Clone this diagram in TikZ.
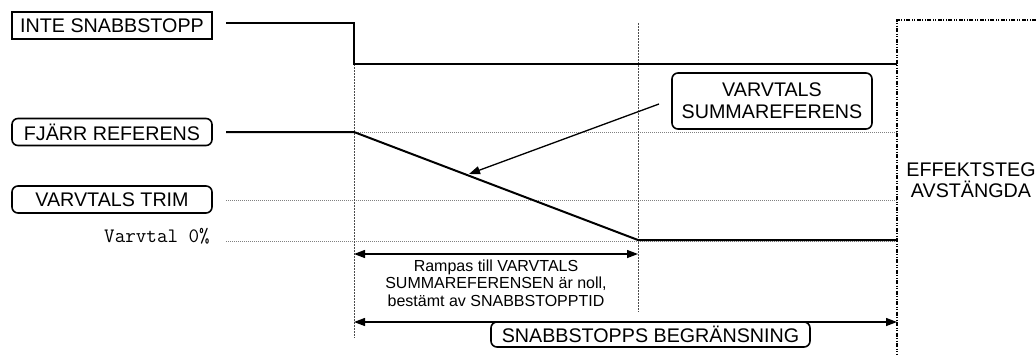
\documentclass[tikz,border=0pt]{standalone}
\usepackage{fontspec}
\setmainfont{Liberation Sans}
\usetikzlibrary{arrows.meta}
\tikzset{
  lbl/.style={draw, line width=1.6pt, minimum width=200pt, minimum height=27pt, inner sep=0pt, font=\fontsize{19.7}{22}\selectfont, fill=white},
  rlbl/.style={lbl, rounded corners=6pt},
  sig/.style={line width=2pt},
  guide/.style={line width=0.9pt, gray, dash pattern=on 1pt off 1pt},
  vguide/.style={line width=0.9pt, black!70, dash pattern=on 1.5pt off 1.5pt},
  frame/.style={line width=1.1pt, dash pattern=on 4pt off 1.5pt on 1pt off 1.5pt on 1pt off 1.5pt},
  tip/.style={-{Triangle[length=11pt,width=8pt]}},
  dtip/.style={{Triangle[length=11pt,width=8pt]}-{Triangle[length=11pt,width=8pt]}, line width=1.3pt},
}
\begin{document}
\begin{tikzpicture}[x=1pt,y=-1pt]
\useasboundingbox (0,0) rectangle (1036,354);
% labels
\node[lbl] (inte) at (112,25.5) {INTE SNABBSTOPP};
\node[rlbl] (fjarr) at (112,132) {FJÄRR REFERENS};
\node[rlbl] (trim) at (112,199.5) {VARVTALS TRIM};
\node[anchor=base east, inner sep=0pt, font=\ttfamily\fontsize{20.5}{22}\selectfont] (v0) at (210,242.5) {Varvtal 0\%};
% coordinates
\coordinate (a0) at (226,23);
\coordinate (a1) at (354,23);
\coordinate (a2) at (354,64);
\coordinate (a3) at (897,64);
\coordinate (b0) at (226,132);
\coordinate (b1) at (354,132);
\coordinate (b2) at (638,240);
\coordinate (b3) at (897,240);
\coordinate (bg) at (897,132);
\coordinate (t0) at (226,200);
\coordinate (t1) at (897,200);
\coordinate (z0) at (226,241);
\coordinate (z1) at (897,241);
\coordinate (v1t) at (354,64);
\coordinate (v1b) at (354,338);
\coordinate (v2t) at (638,23);
\coordinate (v2b) at (638,312);
\coordinate (f0) at (1036,20);
\coordinate (f1) at (897,20);
\coordinate (f2) at (897,354);
\coordinate (r0) at (354,254);
\coordinate (r1) at (638,254);
\coordinate (s0) at (354,322);
\coordinate (s1) at (897,322);
\coordinate (p0) at (659,104);
\coordinate (p1) at (469,174);
% guides
\draw[guide] (b1) -- (bg);
\draw[guide] (t0) -- (t1);
\draw[guide] (z0) -- (z1);
\draw[vguide] (v1t) -- (v1b);
\draw[vguide] (v2t) -- (v2b);
\draw[frame] (f0) -- (f1) -- (f2);
% signals
\draw[sig] (a0) -- (a1) -- (a2) -- (a3);
\draw[sig] (b0) -- (b1) -- (b2) -- (b3);
% pointer
\draw[tip, line width=1.3pt] (p0) -- (p1);
% dimension arrows
\draw[dtip] (r0) -- (r1);
\draw[dtip] (s0) -- (s1);
% texts
\node[rlbl, minimum height=56pt, align=center] (summ) at (772,101) {VARVTALS\\SUMMAREFERENS};
\node[align=center, inner sep=0pt, font=\fontsize{19.7}{21}\selectfont] (eff) at (971,180) {EFFEKTSTEG\\AVSTÄNGDA};
\node[align=center, inner sep=0pt, font=\fontsize{16}{17.5}\selectfont] (ramp) at (496,283) {Rampas till VARVTALS\\SUMMAREFERENSEN är noll,\\bestämt av SNABBSTOPPTID};
\node[rlbl, minimum width=319pt, minimum height=25pt] (snabb) at (650.5,334.5) {SNABBSTOPPS BEGRÄNSNING};
\end{tikzpicture}
\end{document}
